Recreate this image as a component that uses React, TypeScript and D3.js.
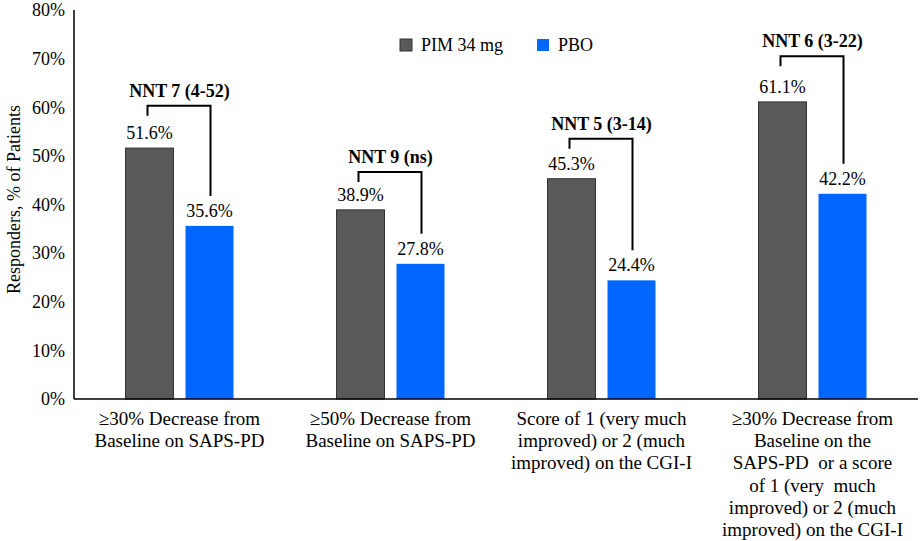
import React, { useEffect, useRef } from "react";
import * as d3 from "d3";

const CATEGORIES = ["g1", "g2", "g3", "g4"];
const CATEGORY_LABELS: string[][] = [
  ["≥30% Decrease from", "Baseline on SAPS-PD"],
  ["≥50% Decrease from", "Baseline on SAPS-PD"],
  ["Score of 1 (very much", "improved) or 2 (much", "improved) on the CGI-I"],
  ["≥30% Decrease from", "Baseline on the", "SAPS-PD  or a score", "of 1 (very  much", "improved) or 2 (much", "improved) on the CGI-I"],
];
const SERIES = ["PIM 34 mg", "PBO"];
const PIM_VALUES = [51.6, 38.9, 45.3, 61.1];
const PBO_VALUES = [35.6, 27.8, 24.4, 42.2];
const NNT_LABELS = ["NNT 7 (4-52)", "NNT 9 (ns)", "NNT 5 (3-14)", "NNT 6 (3-22)"];
// level (in %) of the horizontal part of each NNT bracket
const NNT_LEVELS = [60.3, 46.7, 53.5, 70.5];
const Y_TICKS = [0, 10, 20, 30, 40, 50, 60, 70, 80];

const COLORS = ["#595959", "#0066ff"];
const FONT = "Liberation Serif, DejaVu Serif";

const W = 920;
const H = 541;

export default function App() {
  const ref = useRef<SVGSVGElement>(null);

  useEffect(() => {
    if (!ref.current) return;
    const svg = d3.select(ref.current);
    svg.selectAll("*").remove();

    const margin = { top: 10, left: 74, right: 2, bottom: 142 };
    const x0 = d3.scaleBand<string>()
      .domain(CATEGORIES)
      .range([margin.left, W - margin.right])
      .padding(0);
    const bw = x0.bandwidth();
    const x1 = d3.scaleBand<string>()
      .domain(SERIES)
      .range([bw / 2 - 54, bw / 2 + 54])
      .paddingInner(0.2);
    const y = d3.scaleLinear().domain([0, 80]).range([H - margin.bottom, margin.top]);

    const g = svg.append("g").attr("font-family", FONT).attr("fill", "#000");

    // y tick labels
    g.selectAll("text.ytick")
      .data(Y_TICKS)
      .enter()
      .append("text")
      .attr("class", "ytick")
      .attr("x", margin.left - 9)
      .attr("y", (d: number) => y(d))
      .attr("dy", "0.35em")
      .attr("text-anchor", "end")
      .attr("font-size", 18)
      .text((d: number) => `${d}%`);

    // y axis title
    g.append("text")
      .attr("transform", `translate(20,${y(40) - 5}) rotate(-90)`)
      .attr("text-anchor", "middle")
      .attr("font-size", 18)
      .text("Responders, % of Patients");

    const groups = g.selectAll("g.grp")
      .data(CATEGORIES)
      .enter()
      .append("g")
      .attr("class", "grp")
      .attr("transform", (d: string) => `translate(${x0(d)},0)`);

    groups.each(function (this: SVGGElement, _d: string, i: number) {
      const grp = d3.select(this);
      const vals = [PIM_VALUES[i], PBO_VALUES[i]];
      SERIES.forEach((s, j) => {
        grp.append("rect")
          .attr("x", x1(s)!)
          .attr("y", y(vals[j]))
          .attr("width", x1.bandwidth())
          .attr("height", y(0) - y(vals[j]))
          .attr("fill", COLORS[j])
          .attr("stroke", j === 0 ? "#333" : "none")
          .attr("stroke-width", 1);
        grp.append("text")
          .attr("x", x1(s)! + x1.bandwidth() / 2)
          .attr("y", y(vals[j]) - 9)
          .attr("text-anchor", "middle")
          .attr("font-size", 18)
          .text(`${vals[j].toFixed(1)}%`);
      });

      // NNT bracket
      const lx = x1(SERIES[0])! + x1.bandwidth() / 2 - 2;
      const rx = x1(SERIES[1])! + x1.bandwidth() / 2 + 1;
      const hy = y(NNT_LEVELS[i]);
      grp.append("path")
        .attr("d", `M${lx},${hy + 10}V${hy}H${rx}V${y(vals[1]) - 30}`)
        .attr("fill", "none")
        .attr("stroke", "#000")
        .attr("stroke-width", 2);
      grp.append("text")
        .attr("x", bw / 2)
        .attr("y", hy - 9)
        .attr("text-anchor", "middle")
        .attr("font-size", 18)
        .attr("font-weight", "bold")
        .text(NNT_LABELS[i]);

      // category label
      const lab = grp.append("text")
        .attr("text-anchor", "middle")
        .attr("font-size", 19)
        .style("white-space", "pre");
      CATEGORY_LABELS[i].forEach((line, k) => {
        lab.append("tspan")
          .attr("x", bw / 2)
          .attr("y", y(0) + 26 + k * 22.2)
          .text(line);
      });
    });

    // axis lines
    g.append("line")
      .attr("x1", margin.left).attr("x2", margin.left)
      .attr("y1", y(80)).attr("y2", y(0))
      .attr("stroke", "#000").attr("stroke-width", 1.5);
    g.append("line")
      .attr("x1", margin.left).attr("x2", W - margin.right)
      .attr("y1", y(0)).attr("y2", y(0))
      .attr("stroke", "#000").attr("stroke-width", 1.5);

    // legend
    const legendX = [400, 537];
    SERIES.forEach((s, j) => {
      g.append("rect")
        .attr("x", legendX[j])
        .attr("y", 39)
        .attr("width", 12)
        .attr("height", 12)
        .attr("fill", COLORS[j])
        .attr("stroke", j === 0 ? "#333" : "none");
      g.append("text")
        .attr("x", legendX[j] + 21)
        .attr("y", 51)
        .attr("font-size", 18)
        .text(s);
    });
  }, []);

  return (
    <svg
      ref={ref}
      width={W}
      height={H}
      style={{ position: "absolute", left: 0, top: 0, background: "#fff" }}
    />
  );
}
